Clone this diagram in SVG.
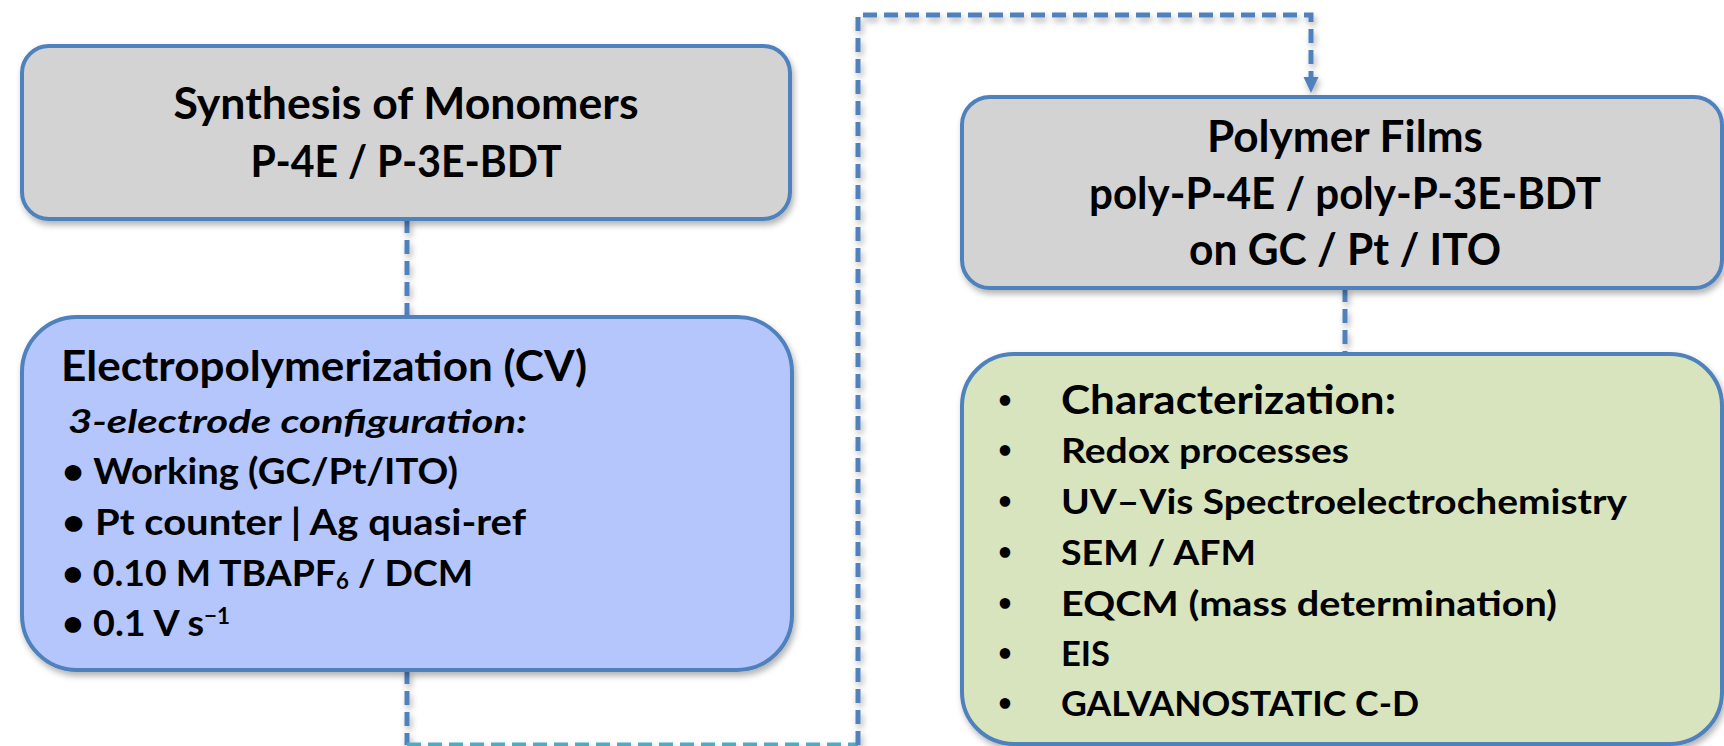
<svg xmlns="http://www.w3.org/2000/svg" width="1724" height="746" viewBox="0 0 1724 746">
  <defs>
    <filter id="shadow" x="-5%" y="-5%" width="112%" height="115%">
      <feDropShadow dx="2" dy="4" stdDeviation="3" flood-color="#000" flood-opacity="0.3"/>
    </filter>
    <marker id="arrow" markerUnits="userSpaceOnUse" markerWidth="16" markerHeight="16" refX="0" refY="7.5" orient="auto">
      <path d="M0,0 L16,7.5 L0,15 z" fill="#4f81bd"/>
    </marker>
    <style>
      .box { stroke: #4f81bd; stroke-width: 4; filter: url(#shadow); }
      .gray { fill: #d3d3d3; }
      .blue { fill: #b4c6fb; }
      .green { fill: #d8e4bd; }
      .t { font-family: Lato, "Liberation Sans", sans-serif; font-weight: bold; fill: #000; }
      .c { text-anchor: middle; }
      .conn { fill: none; stroke: #4f81bd; stroke-width: 5; stroke-dasharray: 14 7; }
      .teal { stroke: #4bacc6; }
    </style>
  </defs>

  <g id="connectors" filter="url(#shadow)">
    <path class="conn" d="M407 219 V317"/>
    <path class="conn" d="M407 670 V745"/>
    <path class="conn teal" d="M407 745 H858"/>
    <path class="conn" d="M858 745 V15 H1311 V77" marker-end="url(#arrow)"/>
    <path class="conn" d="M1345 288 V354"/>
  </g>

  <g id="synthesis">
    <rect class="box gray" x="22" y="46" width="768" height="173" rx="27" ry="27"/>
    <text class="t c" x="406" y="119" font-size="44" textLength="465" lengthAdjust="spacingAndGlyphs">Synthesis of Monomers</text>
    <text class="t c" x="406" y="177" font-size="44" textLength="311" lengthAdjust="spacingAndGlyphs">P-4E / P-3E-BDT</text>
  </g>

  <g id="electropolymerization">
    <rect class="box blue" x="22" y="317" width="770" height="353" rx="55" ry="55"/>
    <text class="t" x="61" y="381" font-size="42" textLength="526" lengthAdjust="spacingAndGlyphs">Electropolymerization (CV)</text>
    <text class="t" x="68" y="433" font-size="33" font-style="italic" textLength="459" lengthAdjust="spacingAndGlyphs">3-electrode configuration:</text>
    <text class="t" x="62" y="484" font-size="37" textLength="396" lengthAdjust="spacingAndGlyphs">• Working (GC/Pt/ITO)</text>
    <text class="t" x="62" y="535" font-size="37" textLength="464" lengthAdjust="spacingAndGlyphs">• Pt counter | Ag quasi-ref</text>
    <text class="t" x="62" y="586" font-size="37" textLength="411" lengthAdjust="spacingAndGlyphs">• 0.10 M TBAPF<tspan font-size="22" dy="3">6</tspan><tspan dy="-3"> / DCM</tspan></text>
    <text class="t" x="62" y="636" font-size="37" textLength="168" lengthAdjust="spacingAndGlyphs">• 0.1 V s<tspan font-size="22" dy="-12">−1</tspan></text>
  </g>

  <g id="polymer-films">
    <rect class="box gray" x="962" y="97" width="760" height="191" rx="28" ry="28"/>
    <text class="t c" x="1345" y="152" font-size="43" textLength="276" lengthAdjust="spacingAndGlyphs">Polymer Films</text>
    <text class="t c" x="1345" y="209" font-size="43" textLength="512" lengthAdjust="spacingAndGlyphs">poly-P-4E / poly-P-3E-BDT</text>
    <text class="t c" x="1345" y="265" font-size="43" textLength="312" lengthAdjust="spacingAndGlyphs">on GC / Pt / ITO</text>
  </g>

  <g id="characterization">
    <rect class="box green" x="962" y="354" width="760" height="390" rx="52" ry="52"/>
    <g class="t c" font-size="24">
      <text x="1005" y="408">•</text>
      <text x="1005" y="458">•</text>
      <text x="1005" y="509">•</text>
      <text x="1005" y="560">•</text>
      <text x="1005" y="611">•</text>
      <text x="1005" y="661">•</text>
      <text x="1005" y="711">•</text>
    </g>
    <text class="t" x="1061" y="414" font-size="41" textLength="335" lengthAdjust="spacingAndGlyphs">Characterization:</text>
    <text class="t" x="1061" y="463" font-size="35" textLength="288" lengthAdjust="spacingAndGlyphs">Redox processes</text>
    <text class="t" x="1061" y="514" font-size="35" textLength="566" lengthAdjust="spacingAndGlyphs">UV–Vis Spectroelectrochemistry</text>
    <text class="t" x="1061" y="565" font-size="35" textLength="195" lengthAdjust="spacingAndGlyphs">SEM / AFM</text>
    <text class="t" x="1061" y="616" font-size="35" textLength="496" lengthAdjust="spacingAndGlyphs">EQCM (mass determination)</text>
    <text class="t" x="1061" y="666" font-size="35" textLength="49" lengthAdjust="spacingAndGlyphs">EIS</text>
    <text class="t" x="1061" y="716" font-size="35" textLength="358" lengthAdjust="spacingAndGlyphs">GALVANOSTATIC C-D</text>
  </g>
</svg>
